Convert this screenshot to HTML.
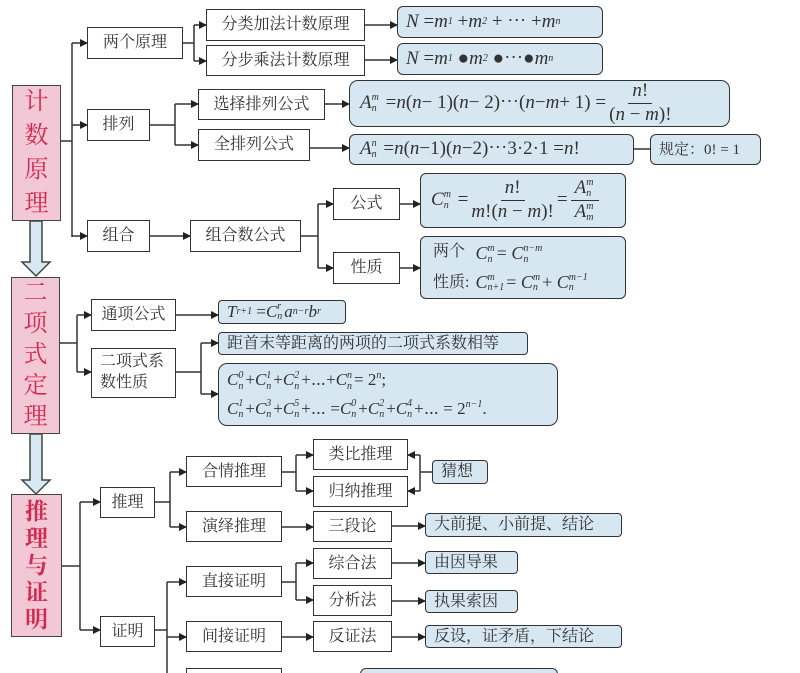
<!DOCTYPE html>
<html><head><meta charset="utf-8"><style>
*{margin:0;padding:0;box-sizing:border-box}
html,body{width:800px;height:673px;overflow:hidden}
body{background:#fff;position:relative;font-family:"Liberation Serif","Noto Serif CJK SC",serif;color:#333}
.b{position:absolute;border:1.5px solid #333;background:#fff;display:flex;align-items:center;justify-content:center;font-size:16px;white-space:nowrap;line-height:1.2}
.f{position:absolute;border:1.5px solid #333;background:#d6e7f1;border-radius:6px;display:flex;align-items:center;padding-left:8px;font-size:19px;white-space:nowrap;line-height:1.2}
.p{position:absolute;border:1.5px solid #444;background:#f2c8d7;color:#d4294e;display:flex;flex-direction:column;align-items:center;justify-content:center;font-size:24px;line-height:1.42}
i{font-style:italic}
.ss{display:inline-flex;flex-direction:column;font-size:10px;line-height:1.05;vertical-align:middle;font-style:italic;margin-right:2px}
.sb{font-size:10px;vertical-align:-3px;font-style:italic}
.sp{font-size:10px;vertical-align:7px;font-style:italic}
.fr{display:inline-flex;flex-direction:column;align-items:center;vertical-align:middle;margin:0 3px}
.fr>span:first-child{border-bottom:1px solid #333;padding:0 4px}
svg{position:absolute;left:0;top:0}
</style></head><body>
<svg width="800" height="673">
<defs><marker id="a" markerWidth="8" markerHeight="8" refX="7" refY="4" orient="auto" markerUnits="userSpaceOnUse"><path d="M0,0 L8,4 L0,8z" fill="#222"/></marker></defs>
<g stroke="#333" stroke-width="1.5" fill="none">
<path d="M61 141H72M72 43V237M183 43H194M194 25V61M150 125H175M175 104V145M301 236H318M318 204V268M634 149H650M60 343H77M77 315V372M176 372H201M201 343V394M62 566H80M80 502V630M155 502H170M170 472V527M282 472H296M296 455V491M432 472H420M420 455V491M155 630H167M167 582V673M282 582H296M296 563V600"/>
<g marker-end="url(#a)">
<path d="M72 43H87"/><path d="M72 125H87"/><path d="M72 236H87"/>
<path d="M194 25H206"/><path d="M194 61H206"/>
<path d="M365 25H397"/><path d="M365 60H397"/>
<path d="M175 104H198"/><path d="M175 145H198"/>
<path d="M325 104H349"/><path d="M310 148H349"/>
<path d="M150 236H190"/>
<path d="M318 204H333"/><path d="M318 268H333"/>
<path d="M400 204H420"/><path d="M400 268H420"/>
<path d="M77 315H91"/><path d="M77 372H91"/>
<path d="M176 315H218"/>
<path d="M201 343H218"/><path d="M201 394H218"/>
<path d="M80 502H100"/><path d="M80 630H100"/>
<path d="M170 472H186"/><path d="M170 527H186"/>
<path d="M296 455H313"/><path d="M296 491H313"/>
<path d="M420 455H408"/><path d="M420 491H408"/>
<path d="M282 527H313"/><path d="M392 526H425"/>
<path d="M167 582H186"/><path d="M167 637H186"/>
<path d="M296 563H313"/><path d="M296 600H313"/>
<path d="M392 563H425"/><path d="M392 601H425"/>
<path d="M282 637H313"/><path d="M392 637H425"/>
</g></g>
<g fill="#d6e8f2" stroke="#444" stroke-width="1.5">
<path d="M30 221H42V262H50L36 276L22 262H30Z"/>
<path d="M30 434H42V480H50L36 494L22 480H30Z"/>
</g>
</svg>

<div class="p" style="left:12px;top:85px;width:49px;height:136px">计<br>数<br>原<br>理</div>
<div class="p" style="left:11px;top:277px;width:49px;height:157px;line-height:1.3">二<br>项<br>式<br>定<br>理</div>
<div class="p" style="left:11px;top:494px;width:51px;height:143px;font-weight:bold;font-size:23px;line-height:1.18">推<br>理<br>与<br>证<br>明</div>

<div class="b" style="left:87px;top:27px;width:96px;height:32px">两个原理</div>
<div class="b" style="left:206px;top:9px;width:159px;height:32px">分类加法计数原理</div>
<div class="b" style="left:206px;top:45px;width:159px;height:31px">分步乘法计数原理</div>
<div class="f" style="left:397px;top:6px;width:206px;height:32px"><i>N</i>&nbsp;= <i>m</i><span class="sb">1</span>&nbsp;+ <i>m</i><span class="sb">2</span>&nbsp;+ ⋯ + <i>m</i><span class="sb">n</span></div>
<div class="f" style="left:397px;top:43px;width:206px;height:32px"><i>N</i>&nbsp;= <i>m</i><span class="sb">1</span>&nbsp;● <i>m</i><span class="sb">2</span>&nbsp;●⋯● <i>m</i><span class="sb">n</span></div>

<div class="b" style="left:87px;top:109px;width:63px;height:32px">排列</div>
<div class="b" style="left:198px;top:89px;width:127px;height:31px">选择排列公式</div>
<div class="b" style="left:198px;top:129px;width:112px;height:32px">全排列公式</div>
<div class="f" style="left:349px;top:80px;width:381px;height:47px;border-radius:9px;padding-left:10px"><i>A</i><span class="ss"><span>m</span><span>n</span></span>&nbsp;= <i>n</i>(<i>n</i> − 1)(<i>n</i> − 2)⋯(<i>n</i> − <i>m</i> + 1) = <span class="fr"><span><i>n</i>!</span><span>(<i>n</i> − <i>m</i>)!</span></span></div>
<div class="f" style="left:349px;top:134px;width:285px;height:31px;padding-left:10px"><i>A</i><span class="ss"><span>n</span><span>n</span></span>&nbsp;= <i>n</i>(<i>n</i>−1)(<i>n</i>−2)⋯3·2·1 = <i>n</i>!</div>
<div class="f" style="left:650px;top:134px;width:111px;height:31px;font-size:15px">规定：0! = 1</div>

<div class="b" style="left:87px;top:220px;width:63px;height:32px">组合</div>
<div class="b" style="left:190px;top:220px;width:111px;height:32px">组合数公式</div>
<div class="b" style="left:333px;top:188px;width:67px;height:32px">公式</div>
<div class="b" style="left:333px;top:252px;width:67px;height:32px">性质</div>
<div class="f" style="left:420px;top:173px;width:206px;height:55px;padding-left:10px"><i>C</i><span class="ss"><span>m</span><span>n</span></span>&nbsp;= <span class="fr"><span><i>n</i>!</span><span><i>m</i>!(<i>n</i> − <i>m</i>)!</span></span>= <span class="fr"><span><i>A</i><span class="ss"><span>m</span><span>n</span></span></span><span><i>A</i><span class="ss"><span>m</span><span>m</span></span></span></span></div>
<div class="f" style="left:420px;top:236px;width:206px;height:63px;font-size:16px;line-height:1.9;padding-left:12px"><div>两个<br>性质:</div><div style="font-size:18px;margin-left:6px;line-height:1.6"><i>C</i><span class="ss"><span>m</span><span>n</span></span>= <i>C</i><span class="ss"><span>n−m</span><span>n</span></span><br><i>C</i><span class="ss"><span>m</span><span>n+1</span></span>= <i>C</i><span class="ss"><span>m</span><span>n</span></span>+ <i>C</i><span class="ss"><span>m−1</span><span>n</span></span></div></div>

<div class="b" style="left:91px;top:299px;width:85px;height:32px">通项公式</div>
<div class="b" style="left:91px;top:348px;width:85px;height:50px;white-space:normal;text-align:left;padding:0 8px;line-height:1.3">二项式系数性质</div>
<div class="f" style="left:218px;top:300px;width:128px;height:24px;font-size:17px;border-radius:4px"><i>T</i><span class="sb">r+1</span>&nbsp;= <i>C</i><span class="ss"><span>r</span><span>n</span></span><i>a</i><span class="sp">n−r</span><i>b</i><span class="sp">r</span></div>
<div class="f" style="left:218px;top:332px;width:310px;height:23px;font-size:16px;border-radius:4px">距首末等距离的两项的二项式系数相等</div>
<div class="f" style="left:218px;top:363px;width:340px;height:63px;font-size:17px;line-height:1.65;border-radius:9px"><div><i>C</i><span class="ss"><span>0</span><span>n</span></span>+<i>C</i><span class="ss"><span>1</span><span>n</span></span>+<i>C</i><span class="ss"><span>2</span><span>n</span></span>+⋯+<i>C</i><span class="ss"><span>n</span><span>n</span></span>= 2<span class="sp">n</span>;<br><i>C</i><span class="ss"><span>1</span><span>n</span></span>+<i>C</i><span class="ss"><span>3</span><span>n</span></span>+<i>C</i><span class="ss"><span>5</span><span>n</span></span>+⋯ =<i>C</i><span class="ss"><span>0</span><span>n</span></span>+<i>C</i><span class="ss"><span>2</span><span>n</span></span>+<i>C</i><span class="ss"><span>4</span><span>n</span></span>+⋯ = 2<span class="sp">n−1</span>.</div></div>

<div class="b" style="left:100px;top:487px;width:55px;height:31px">推理</div>
<div class="b" style="left:100px;top:616px;width:55px;height:31px">证明</div>
<div class="b" style="left:186px;top:456px;width:96px;height:31px">合情推理</div>
<div class="b" style="left:186px;top:511px;width:96px;height:31px">演绎推理</div>
<div class="b" style="left:313px;top:439px;width:95px;height:31px">类比推理</div>
<div class="b" style="left:313px;top:476px;width:95px;height:31px">归纳推理</div>
<div class="f" style="left:432px;top:460px;width:56px;height:24px;font-size:16px;border-radius:4px">猜想</div>
<div class="b" style="left:313px;top:511px;width:79px;height:31px">三段论</div>
<div class="f" style="left:425px;top:513px;width:197px;height:24px;font-size:16px;border-radius:4px">大前提、小前提、结论</div>
<div class="b" style="left:186px;top:566px;width:96px;height:31px">直接证明</div>
<div class="b" style="left:186px;top:621px;width:96px;height:31px">间接证明</div>
<div class="b" style="left:313px;top:548px;width:79px;height:31px">综合法</div>
<div class="b" style="left:313px;top:585px;width:79px;height:31px">分析法</div>
<div class="b" style="left:313px;top:621px;width:79px;height:31px">反证法</div>
<div class="f" style="left:425px;top:551px;width:93px;height:23px;font-size:16px;border-radius:4px">由因导果</div>
<div class="f" style="left:425px;top:590px;width:93px;height:23px;font-size:16px;border-radius:4px">执果索因</div>
<div class="f" style="left:425px;top:625px;width:197px;height:23px;font-size:16px;border-radius:4px">反设，证矛盾，下结论</div>
<div class="b" style="left:186px;top:668px;width:96px;height:20px"></div>
<div class="f" style="left:360px;top:668px;width:198px;height:20px"></div>
</body></html>
